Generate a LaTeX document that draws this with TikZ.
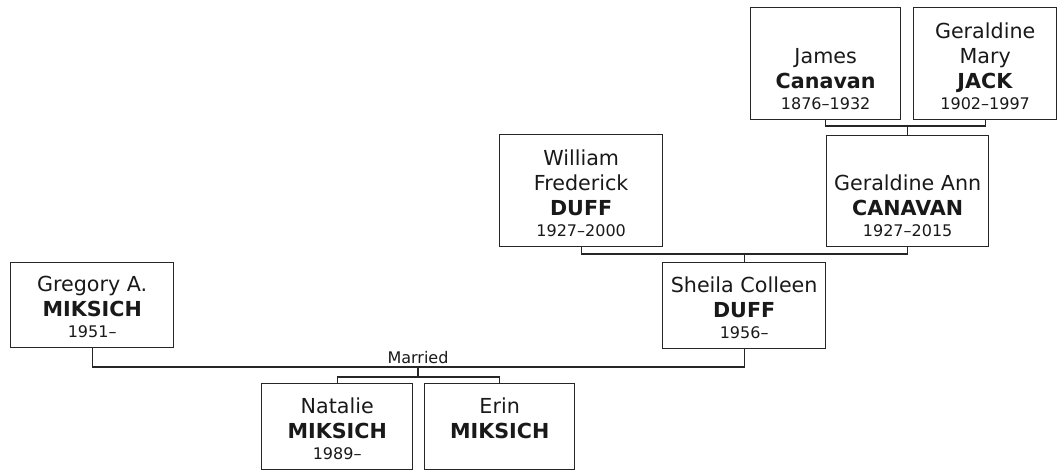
\documentclass[tikz,border=0pt]{standalone}
\usepackage{fontspec}
\setmainfont{DejaVu Sans}
\usepackage{xcolor}
\newcommand{\pcard}[3]{\parbox[c][#2][b]{#1}{\centering\fontsize{15.5}{18.75}\selectfont #3\par\vspace{7.5pt}}}
\newcommand{\yrs}[1]{\par\fontsize{12}{16}\selectfont #1}
\tikzset{
  person/.style={draw=black!85,line width=1pt,inner sep=0pt,anchor=north west,text=black!90},
  link/.style={draw=black!85,line width=1pt},
}
\begin{document}
\begin{tikzpicture}[x=0.75pt,y=-0.75pt]
            \useasboundingbox (0,0) rectangle (1057,470);
            \node[person] (james) at (750,7) {\pcard{112.5pt}{84pt}{James\\\textbf{Canavan}\yrs{1876--1932}}};
            \node[person] (jack) at (913,7) {\pcard{107.25pt}{84pt}{Geraldine\\Mary\\\textbf{JACK}\yrs{1902--1997}}};
            \node[person] (geraldine) at (826,135) {\pcard{121.5pt}{83.25pt}{Geraldine Ann\\\textbf{CANAVAN}\yrs{1927--2015}}};
            \node[person] (william) at (499,134) {\pcard{122.25pt}{84pt}{William\\Frederick\\\textbf{DUFF}\yrs{1927--2000}}};
            \node[person] (sheila) at (662,262) {\pcard{122.25pt}{64.5pt}{Sheila Colleen\\\textbf{DUFF}\yrs{1956--}}};
            \node[person] (gregory) at (10,262) {\pcard{122.25pt}{63.75pt}{Gregory A.\\\textbf{MIKSICH}\yrs{1951--}}};
            \node[person] (natalie) at (261,383) {\pcard{113.25pt}{64.5pt}{Natalie\\\textbf{MIKSICH}\yrs{1989--}}};
            \node[person] (erin) at (424,383) {\pcard{112.5pt}{64.5pt}{Erin\\\textbf{MIKSICH}\yrs{\mbox{}}}};
            \coordinate (cj) at (geraldine.north |- 0,126);
            \coordinate (dw) at (sheila.north |- 0,254);
            \coordinate (mar) at (418,367);
            \coordinate (kids) at (418,377);
            \draw[link] (james.south) |- (cj) -| (jack.south);
            \draw[link] (cj) -- (geraldine.north);
            \draw[link] (william.south) |- (dw) -| (geraldine.south);
            \draw[link] (dw) -- (sheila.north);
            \draw[link] (gregory.south) |- (mar) -| (sheila.south);
            \node[above=-1pt,font=\fontsize{12}{14}\selectfont,text=black!90] (married) at (mar) {Married};
            \draw[link] (mar) -- (kids);
            \draw[link] (natalie.north) |- (kids) -| (erin.north);
          \end{tikzpicture}
\end{document}
